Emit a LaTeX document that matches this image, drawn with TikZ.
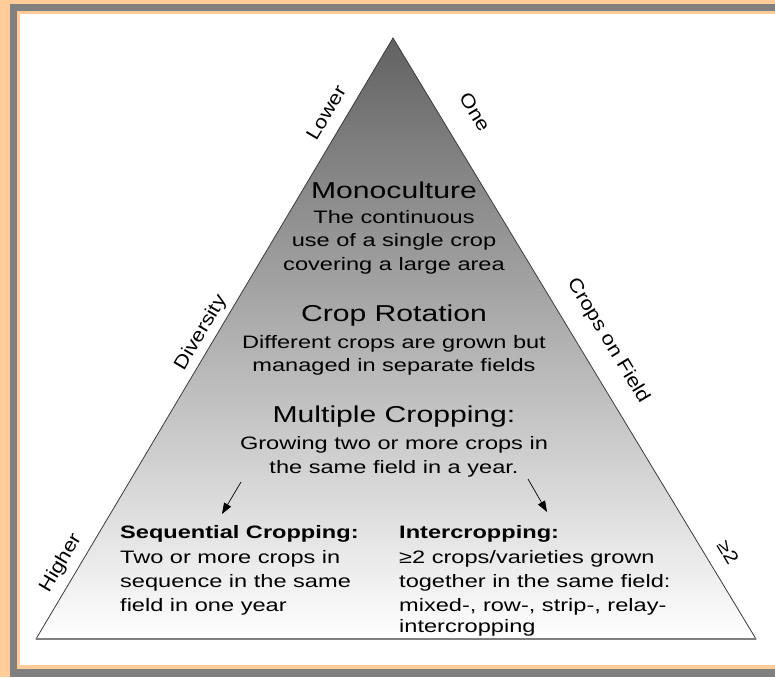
\documentclass[tikz,border=0pt]{standalone}
\usepackage{fontspec}
\setmainfont{Liberation Sans}[FakeStretch=1.15]
\newfontfamily\innerfont{Liberation Sans}[FakeStretch=1.31]
\usetikzlibrary{arrows.meta}
\definecolor{peach}{RGB}{255,204,153}
\definecolor{framegray}{RGB}{128,128,128}
\definecolor{topgray}{RGB}{98,98,98}
\definecolor{edgegray}{RGB}{60,60,60}
\begin{document}
\begin{tikzpicture}[x=1pt,y=-1pt,
  title/.style={font=\innerfont\fontsize{23}{26}\selectfont, anchor=base, inner sep=0pt},
  body/.style={font=\innerfont\fontsize{18}{22}\selectfont, anchor=base, inner sep=0pt},
  sub/.style={font=\innerfont\bfseries\fontsize{18}{22}\selectfont, anchor=base west, inner sep=0pt},
  bodyl/.style={font=\innerfont\fontsize{18}{22}\selectfont, anchor=base west, inner sep=0pt},
  side/.style={font=\fontsize{19}{22}\selectfont, inner sep=0pt},
  arr/.style={-{Triangle[length=11pt,width=8pt]}, line width=0.7pt, black}]
\useasboundingbox (0,0) rectangle (775,677);
% frame
\fill[peach] (0,0) rectangle (775,677);
\fill[framegray] (10,4) rectangle (775,677);
\fill[peach] (17,11) rectangle (775,669);
\fill[white] (20,14) rectangle (775,665);
% pyramid
\coordinate (apex) at (393,38);
\coordinate (bl) at (36,639);
\coordinate (br) at (756,639);
\shade[top color=topgray, bottom color=white] (apex) -- (bl) -- (br) -- cycle;
\draw[edgegray, line width=0.8pt, line join=miter] (apex) -- (bl) -- (br) -- cycle;
\draw[gray, line width=1.2pt] (bl) -- (br);
% side labels
\node[side, rotate=59.3] (lower) at (326,113) {Lower};
\node[side, rotate=59.3] (diversity) at (201,333) {Diversity};
\node[side, rotate=59.3] (higher) at (61,563) {Higher};
\node[side, rotate=-58.9] (one) at (475,112) {One};
\node[side, rotate=-58.9] (cropsfield) at (608,341) {Crops on Field};
\node[side, rotate=-58.9] (ge2) at (728,552) {≥2};
% monoculture
\node[title] (mono) at (394,198) {Monoculture};
\node[body] (mono1) at (394,223) {The continuous};
\node[body] (mono2) at (394,246) {use of a single crop};
\node[body] (mono3) at (394,270) {covering a large area};
% crop rotation
\node[title] (rot) at (394,321) {Crop Rotation};
\node[body] (rot1) at (394,348) {Different crops are grown but};
\node[body] (rot2) at (394,371) {managed in separate fields};
% multiple cropping
\node[title] (multi) at (394,422) {Multiple Cropping:};
\node[body] (multi1) at (394,449) {Growing two or more crops in};
\node[body] (multi2) at (394,473) {the same field in a year.};
% arrows
\coordinate (la1) at (241,482);
\coordinate (la2) at (222,514);
\coordinate (ra1) at (528,479);
\coordinate (ra2) at (547,512);
\draw[arr] (la1) -- (la2);
\draw[arr] (ra1) -- (ra2);
% sequential
\node[sub] (seq) at (120,538) {Sequential Cropping:};
\node[bodyl] (seq1) at (120,563) {Two or more crops in};
\node[bodyl] (seq2) at (120,587) {sequence in the same};
\node[bodyl] (seq3) at (120,611) {field in one year};
% intercropping
\node[sub] (inter) at (399,538) {Intercropping:};
\node[bodyl] (inter1) at (399,563) {≥2 crops/varieties grown};
\node[bodyl] (inter2) at (399,587) {together in the same field:};
\node[bodyl] (inter3) at (399,611) {mixed-, row-, strip-, relay-};
\node[bodyl] (inter4) at (399,632) {intercropping};
\end{tikzpicture}
\end{document}
